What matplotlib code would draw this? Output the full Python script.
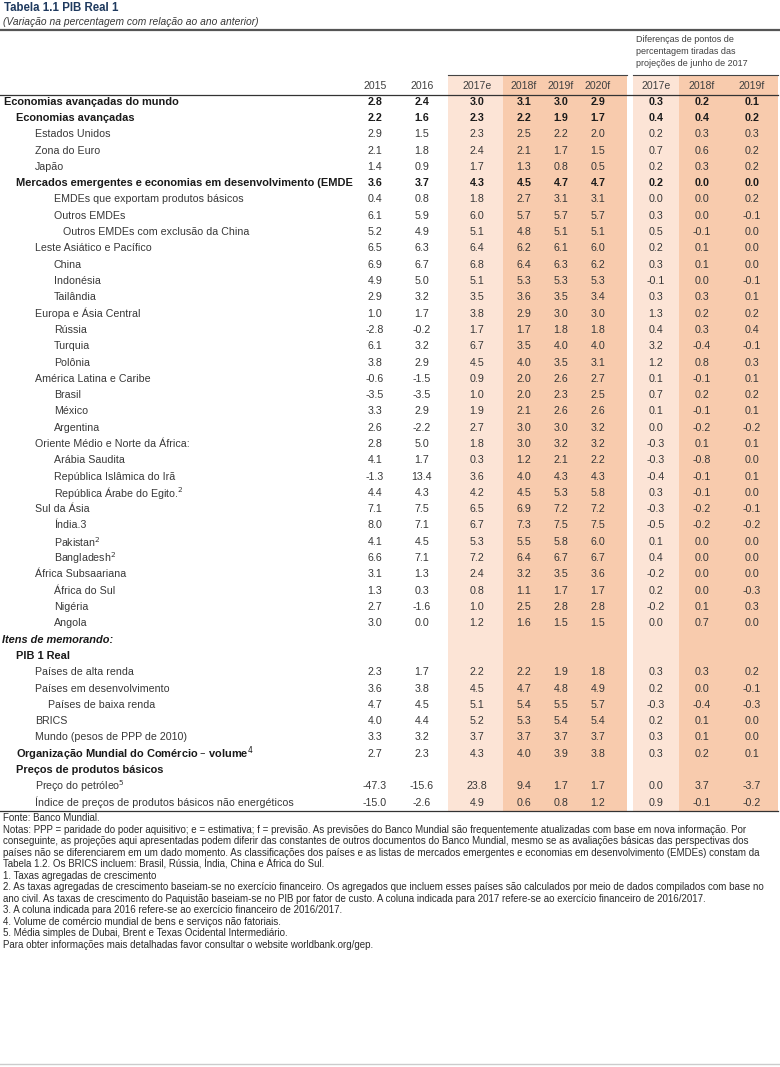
import matplotlib.pyplot as plt
from matplotlib.patches import Rectangle

plt.rcParams['font.family'] = ['Liberation Sans', 'DejaVu Sans']

# ---- data -------------------------------------------------------------
labels = [
    'Economias avançadas do mundo', 'Economias avançadas', 'Estados Unidos',
    'Zona do Euro', 'Japão',
    'Mercados emergentes e economias em desenvolvimento (EMDE',
    'EMDEs que exportam produtos básicos', 'Outros EMDEs',
    'Outros EMDEs com exclusão da China', 'Leste Asiático e Pacífico', 'China',
    'Indonésia', 'Tailândia', 'Europa e Ásia Central', 'Rússia', 'Turquia',
    'Polônia', 'América Latina e Caribe', 'Brasil', 'México', 'Argentina',
    'Oriente Médio e Norte da África:', 'Arábia Saudita',
    'República Islâmica do Irã', 'República Árabe do Egito.$^2$',
    'Sul da Ásia', 'Índia.3', 'Pakistan$^2$', 'Bangladesh$^2$',
    'África Subsaariana', 'África do Sul', 'Nigéria', 'Angola',
    'Itens de memorando:', 'PIB 1 Real', 'Países de alta renda',
    'Países em desenvolvimento', 'Países de baixa renda', 'BRICS',
    'Mundo (pesos de PPP de 2010)',
    'Organização Mundial do Comércio – volume$^4$',
    'Preços de produtos básicos', 'Preço do petróleo$^5$',
    'Índice de preços de produtos básicos não energéticos',
]
levels = [0, 1, 2, 2, 2, 1, 3, 3, 4, 2, 3, 3, 3, 2, 3, 3, 3, 2, 3, 3, 3,
          2, 3, 3, 3, 2, 3, 3, 3, 2, 3, 3, 3, 0, 1, 2, 2, 5, 2, 2, 1, 1, 2, 2]
bold_labels = [0, 1, 5, 33, 34, 40, 41]
bold_numbers = [0, 1, 5]
italic_labels = [33]

N = None
y2015 = [2.8, 2.2, 2.9, 2.1, 1.4, 3.6, 0.4, 6.1, 5.2, 6.5, 6.9, 4.9, 2.9, 1.0,
         -2.8, 6.1, 3.8, -0.6, -3.5, 3.3, 2.6, 2.8, 4.1, -1.3, 4.4, 7.1, 8.0,
         4.1, 6.6, 3.1, 1.3, 2.7, 3.0, N, N, 2.3, 3.6, 4.7, 4.0, 3.3, 2.7, N,
         -47.3, -15.0]
y2016 = [2.4, 1.6, 1.5, 1.8, 0.9, 3.7, 0.8, 5.9, 4.9, 6.3, 6.7, 5.0, 3.2, 1.7,
         -0.2, 3.2, 2.9, -1.5, -3.5, 2.9, -2.2, 5.0, 1.7, 13.4, 4.3, 7.5, 7.1,
         4.5, 7.1, 1.3, 0.3, -1.6, 0.0, N, N, 1.7, 3.8, 4.5, 4.4, 3.2, 2.3, N,
         -15.6, -2.6]
y2017e = [3.0, 2.3, 2.3, 2.4, 1.7, 4.3, 1.8, 6.0, 5.1, 6.4, 6.8, 5.1, 3.5, 3.8,
          1.7, 6.7, 4.5, 0.9, 1.0, 1.9, 2.7, 1.8, 0.3, 3.6, 4.2, 6.5, 6.7,
          5.3, 7.2, 2.4, 0.8, 1.0, 1.2, N, N, 2.2, 4.5, 5.1, 5.2, 3.7, 4.3, N,
          23.8, 4.9]
y2018f = [3.1, 2.2, 2.5, 2.1, 1.3, 4.5, 2.7, 5.7, 4.8, 6.2, 6.4, 5.3, 3.6, 2.9,
          1.7, 3.5, 4.0, 2.0, 2.0, 2.1, 3.0, 3.0, 1.2, 4.0, 4.5, 6.9, 7.3,
          5.5, 6.4, 3.2, 1.1, 2.5, 1.6, N, N, 2.2, 4.7, 5.4, 5.3, 3.7, 4.0, N,
          9.4, 0.6]
y2019f = [3.0, 1.9, 2.2, 1.7, 0.8, 4.7, 3.1, 5.7, 5.1, 6.1, 6.3, 5.3, 3.5, 3.0,
          1.8, 4.0, 3.5, 2.6, 2.3, 2.6, 3.0, 3.2, 2.1, 4.3, 5.3, 7.2, 7.5,
          5.8, 6.7, 3.5, 1.7, 2.8, 1.5, N, N, 1.9, 4.8, 5.5, 5.4, 3.7, 3.9, N,
          1.7, 0.8]
y2020f = [2.9, 1.7, 2.0, 1.5, 0.5, 4.7, 3.1, 5.7, 5.1, 6.0, 6.2, 5.3, 3.4, 3.0,
          1.8, 4.0, 3.1, 2.7, 2.5, 2.6, 3.2, 3.2, 2.2, 4.3, 5.8, 7.2, 7.5,
          6.0, 6.7, 3.6, 1.7, 2.8, 1.5, N, N, 1.8, 4.9, 5.7, 5.4, 3.7, 3.8, N,
          1.7, 1.2]
d2017e = [0.3, 0.4, 0.2, 0.7, 0.2, 0.2, 0.0, 0.3, 0.5, 0.2, 0.3, -0.1, 0.3, 1.3,
          0.4, 3.2, 1.2, 0.1, 0.7, 0.1, 0.0, -0.3, -0.3, -0.4, 0.3, -0.3, -0.5,
          0.1, 0.4, -0.2, 0.2, -0.2, 0.0, N, N, 0.3, 0.2, -0.3, 0.2, 0.3, 0.3, N,
          0.0, 0.9]
d2018f = [0.2, 0.4, 0.3, 0.6, 0.3, 0.0, 0.0, 0.0, -0.1, 0.1, 0.1, 0.0, 0.3, 0.2,
          0.3, -0.4, 0.8, -0.1, 0.2, -0.1, -0.2, 0.1, -0.8, -0.1, -0.1, -0.2,
          -0.2, 0.0, 0.0, 0.0, 0.0, 0.1, 0.7, N, N, 0.3, 0.0, -0.4, 0.1, 0.1,
          0.2, N, 3.7, -0.1]
d2019f = [0.1, 0.2, 0.3, 0.2, 0.2, 0.0, 0.2, -0.1, 0.0, 0.0, 0.0, -0.1, 0.1, 0.2,
          0.4, -0.1, 0.3, 0.1, 0.2, 0.1, -0.2, 0.1, 0.0, 0.1, 0.0, -0.1, -0.2,
          0.0, 0.0, 0.0, -0.3, 0.3, 0.0, N, N, 0.2, -0.1, -0.3, 0.0, 0.0, 0.1,
          N, -3.7, -0.2]

columns = [y2015, y2016, y2017e, y2018f, y2019f, y2020f, d2017e, d2018f, d2019f]
col_headers = ['2015', '2016', '2017e', '2018f', '2019f', '2020f',
               '2017e', '2018f', '2019f']

notes = [
    'Fonte: Banco Mundial.',
    'Notas: PPP = paridade do poder aquisitivo; e = estimativa; f = previsão. As previsões do Banco Mundial são frequentemente atualizadas com base em nova informação. Por',
    'conseguinte, as projeções aqui apresentadas podem diferir das constantes de outros documentos do Banco Mundial, mesmo se as avaliações básicas das perspectivas dos',
    'países não se diferenciarem em um dado momento. As classificações dos países e as listas de mercados emergentes e economias em desenvolvimento (EMDEs) constam da',
    'Tabela 1.2. Os BRICS incluem: Brasil, Rússia, Índia, China e África do Sul.',
    '1. Taxas agregadas de crescimento',
    '2. As taxas agregadas de crescimento baseiam-se no exercício financeiro. Os agregados que incluem esses países são calculados por meio de dados compilados com base no',
    'ano civil. As taxas de crescimento do Paquistão baseiam-se no PIB por fator de custo. A coluna indicada para 2017 refere-se ao exercício financeiro de 2016/2017.',
    '3. A coluna indicada para 2016 refere-se ao exercício financeiro de 2016/2017.',
    '4. Volume de comércio mundial de bens e serviços não fatoriais.',
    '5. Média simples de Dubai, Brent e Texas Ocidental Intermediário.',
    'Para obter informações mais detalhadas favor consultar o website worldbank.org/gep.',
]

# ---- layout (pixels) --------------------------------------------------
col_x = [375, 422, 477, 524, 561, 598, 656, 702, 752]
indent = [4, 16, 35, 54, 63, 48]
row_y0, row_h = 101.7, 16.3
light, dark = '#fce4d6', '#f8cbad'
txt = '#383838'

fig = plt.figure(figsize=(7.8, 10.67), dpi=100)
ax = fig.add_axes([0, 0, 1, 1])
ax.set_xlim(0, 780)
ax.set_ylim(1067, 0)
ax.axis('off')

top, bot = 75, 811
for x0, x1, c in [(448, 503, light), (503, 627, dark),
                  (633, 679, light), (679, 778, dark)]:
    ax.add_patch(Rectangle((x0, top), x1 - x0, bot - top, color=c, lw=0))

ax.text(4, 8, 'Tabela 1.1 PIB Real 1', fontsize=8.3, fontweight='bold',
        color='#1f3a5f', va='center')
ax.text(3, 22, '(Variação na percentagem com relação ao ano anterior)',
        fontsize=7.4, style='italic', color=txt, va='center')
ax.plot([0, 780], [30, 30], color='#555555', lw=1.6)

ax.plot([448, 627], [75, 75], color='#444444', lw=0.8)
ax.plot([633, 778], [75, 75], color='#444444', lw=0.8)
ax.plot([0, 778], [95, 95], color='#333333', lw=0.9)
ax.plot([0, 778], [bot, bot], color='#333333', lw=0.9)
ax.plot([0, 780], [1064, 1064], color='#cccccc', lw=1)

for i, s in enumerate(['Diferenças de pontos de', 'percentagem tiradas das',
                       'projeções de junho de 2017']):
    ax.text(636, 40 + i * 12, s, fontsize=6.5, color='#404040', va='center')

for x, h in zip(col_x, col_headers):
    ax.text(x, 86, h, fontsize=7.6, color='#404040', ha='center', va='center')

for i, lab in enumerate(labels):
    y = row_y0 + i * row_h
    ax.text(indent[levels[i]] if i != 33 else 2, y, lab,
            fontsize=7.9 if i in bold_labels else 7.7,
            color='#1a1a1a' if i in bold_labels else txt,
            fontweight='bold' if i in bold_labels else 'normal',
            style='italic' if i in italic_labels else 'normal', va='center')
    for x, col in zip(col_x, columns):
        v = col[i]
        if v is None:
            continue
        ax.text(x, y, f'{v:.1f}', fontsize=7.7, ha='center', va='center',
                color='#1a1a1a' if i in bold_numbers else txt,
                fontweight='bold' if i in bold_numbers else 'normal')

for i, s in enumerate(notes):
    ax.text(3, 818 + i * 11.55, s, fontsize=7.05, color='#2b2b2b', va='center',
            family=['Liberation Sans Narrow', 'Liberation Sans'])

fig.savefig('out.png', dpi=100)
